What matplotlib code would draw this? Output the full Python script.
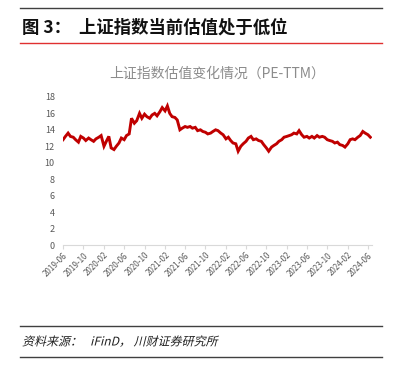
import matplotlib
matplotlib.use('Agg')
import matplotlib.pyplot as plt
import matplotlib.dates as mdates
from matplotlib.lines import Line2D
from matplotlib.textpath import TextPath
from matplotlib.patches import PathPatch
from matplotlib.font_manager import FontProperties
from matplotlib.transforms import Affine2D, IdentityTransform
import pandas as pd

plt.rcParams['font.family'] = ['Noto Sans CJK SC', 'DejaVu Sans']

# ---------------- DATA ----------------
start_date = "2019-06-01"
pe_ttm = [
    12.8, 13.2, 13.6, 13.2, 13.1, 12.8, 12.5, 13.2, 13.0, 12.7,
    13.0, 12.8, 12.6, 12.9, 13.1, 13.3, 12.0, 12.6, 13.2, 11.8,
    11.6, 12.0, 12.4, 13.0, 12.8, 13.3, 13.5, 15.4, 14.8, 15.1,
    16.0, 15.4, 15.9, 15.6, 15.4, 15.8, 16.0, 15.7, 16.2, 16.7,
    16.3, 16.9, 16.0, 15.6, 15.5, 15.2, 14.0, 14.2, 14.4, 14.3,
    14.4, 14.2, 14.3, 13.9, 14.0, 13.8, 13.7, 13.5, 13.6, 13.8,
    14.0, 13.9, 13.6, 13.4, 12.9, 13.1, 12.7, 12.4, 12.3, 11.4,
    12.0, 12.3, 12.6, 13.0, 13.2, 12.8, 12.9, 12.7, 12.6, 12.2,
    11.8, 11.4, 11.9, 12.1, 12.3, 12.6, 12.8, 13.1, 13.2, 13.3,
    13.4, 13.6, 13.5, 13.9, 13.4, 13.1, 13.2, 13.0, 13.2, 13.0,
    13.3, 13.1, 13.2, 13.1, 12.8, 12.7, 12.6, 12.4, 12.5, 12.2,
    12.1, 11.9, 12.3, 12.8, 12.9, 12.8, 13.1, 13.3, 13.8, 13.6,
    13.4, 13.1,
]
dates = pd.date_range(start_date, periods=len(pe_ttm), freq="SMS")

tick_dates = pd.date_range("2019-06-01", "2024-06-01", freq="4MS")
y_ticks = [0, 2, 4, 6, 8, 10, 12, 14, 16, 18]

fig_title = "图 3：  上证指数当前估值处于低位"
chart_title = "上证指数估值变化情况（PE-TTM）"
source = "资料来源：   iFinD， 川财证券研究所"

# ---------------- PLOT ----------------
W, H = 407, 377
fig = plt.figure(figsize=(W / 100, H / 100), dpi=100)
ax = fig.add_axes([0.155, 0.350, 0.759, 0.393])

ax.plot(dates, pe_ttm, color="#C00000", lw=2.1, solid_joinstyle="miter")

ax.set_ylim(0, 18)
ax.set_xlim(pd.Timestamp("2019-06-01"), pd.Timestamp("2024-06-25"))
ax.set_yticks(y_ticks)
ax.set_xticks(tick_dates)
ax.xaxis.set_major_formatter(mdates.DateFormatter("%Y-%m"))

for side in ["top", "right", "left"]:
    ax.spines[side].set_visible(False)
ax.spines["bottom"].set_color("#D9D9D9")
ax.spines["bottom"].set_linewidth(0.8)

ax.tick_params(axis="y", length=0, labelsize=6.5, labelcolor="#595959", pad=6)
ax.tick_params(axis="x", length=3, color="#D9D9D9", labelsize=5.8,
               labelcolor="#595959", pad=1)
plt.setp(ax.get_xticklabels(), rotation=45, ha="right", rotation_mode="anchor")

ax.set_title(chart_title, fontsize=10, color="#8C8C8C", pad=14)

# header
fig.text(0.055, 1 - 28 / H, fig_title, fontsize=12.5, fontweight="bold",
         va="center", ha="left", color="#111111")

# footer source, drawn slanted (CJK font has no italic)
fp = FontProperties(family="Noto Sans CJK SC")
tp = TextPath((0, 0), source, size=12.0, prop=fp)
tr = Affine2D().skew_deg(14, 0).translate(22, H - 341 - 4.5)
fig.add_artist(PathPatch(tr.transform_path(tp), facecolor="#222222",
                         edgecolor="none", transform=IdentityTransform()))

for y, c, w in [(8, "#404040", 1.0), (43, "#E03030", 1.0),
                (326, "#404040", 1.0), (357, "#404040", 1.0)]:
    fig.add_artist(Line2D([20 / W, 382 / W], [1 - y / H, 1 - y / H],
                          color=c, lw=w, transform=fig.transFigure))

fig.savefig("out.png", dpi=100)
